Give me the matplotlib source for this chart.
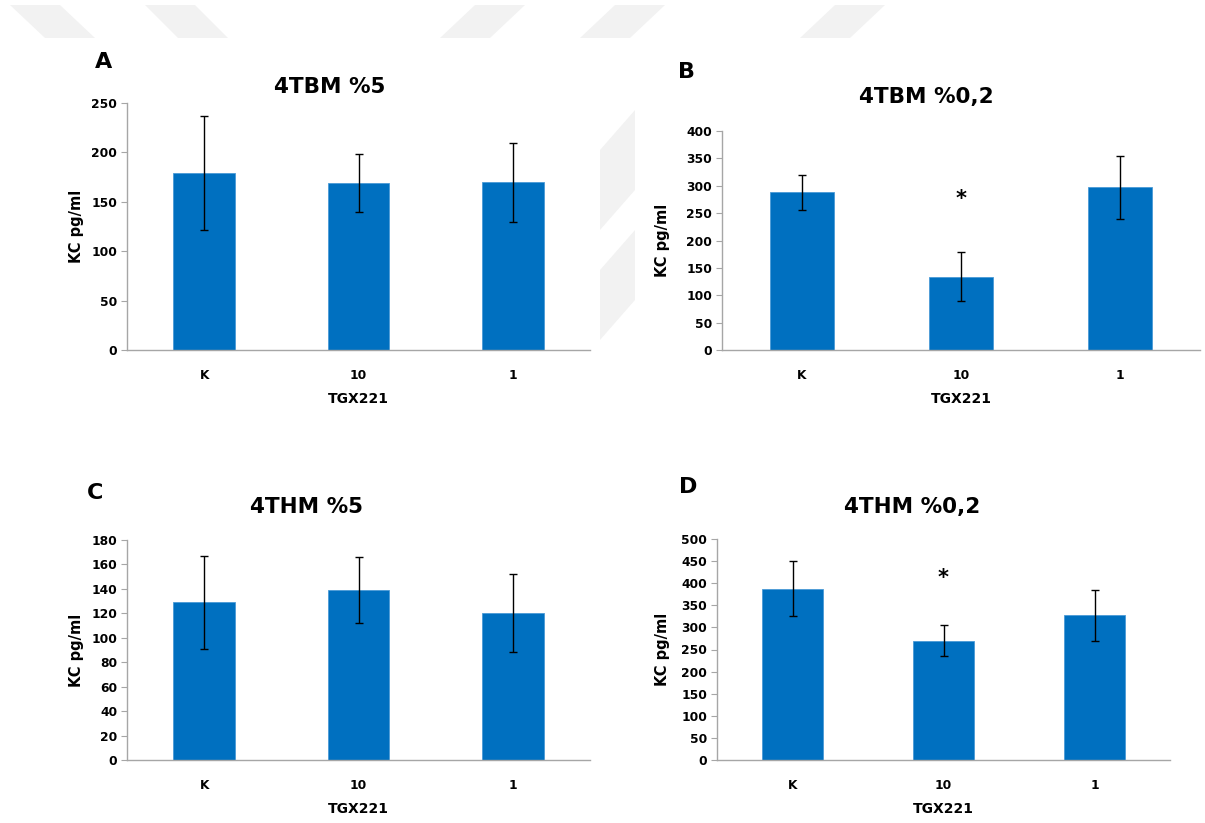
import matplotlib
matplotlib.use("Agg")
import matplotlib.pyplot as plt
from matplotlib.patches import Polygon

plt.rcParams['font.family'] = ['DejaVu Sans']
plt.rcParams['font.weight'] = 'bold'

categories = ["K", "10", "1"]

a_vals = [179, 169, 170]
a_err = [58, 29, 40]
b_vals = [288, 134, 297]
b_err = [32, 45, 58]
c_vals = [129, 139, 120]
c_err = [38, 27, 32]
d_vals = [388, 270, 327]
d_err = [62, 35, 58]

titles = ["4TBM %5", "4TBM %0,2", "4THM %5", "4THM %0,2"]
letters = ["A", "B", "C", "D"]
ymaxes = [250, 400, 180, 500]
ysteps = [50, 50, 20, 50]
star_b = 276
star_d = 412

W, H = 1205, 823
fig = plt.figure(figsize=(W / 100, H / 100), dpi=100)

# faint watermark stripes
grey = '#f2f2f2'
def px(x, y):
    return (x / W, 1 - y / H)
stripes = [
    [(10, 5), (60, 5), (95, 38), (45, 38)],
    [(145, 5), (195, 5), (228, 38), (178, 38)],
    [(440, 38), (475, 5), (525, 5), (490, 38)],
    [(580, 38), (615, 5), (665, 5), (630, 38)],
    [(800, 38), (835, 5), (885, 5), (850, 38)],
    [(600, 150), (635, 110), (635, 190), (600, 230)],
    [(600, 270), (635, 230), (635, 300), (600, 340)],
]
for s in stripes:
    fig.patches.append(Polygon([px(*p) for p in s], closed=True, transform=fig.transFigure,
                               facecolor=grey, edgecolor='none', zorder=0))

# axes boxes in pixels: left, right, top, bottom
boxes = [
    (127, 590, 103, 350),
    (722, 1200, 131, 350),
    (127, 590, 540, 760),
    (717, 1170, 539, 760),
]
vals = [a_vals, b_vals, c_vals, d_vals]
errs = [a_err, b_err, c_err, d_err]
title_pos = [(330, 87), (926, 97), (306, 507), (912, 507)]
letter_pos = [(104, 62), (687, 72), (95, 493), (688, 487)]
ylabel_x = [76, 662, 76, 662]

blue = '#0070C0'
axcol = '#a6a6a6'

axes = []
for i in range(4):
    l, r, t, b = boxes[i]
    ax = fig.add_axes([l / W, 1 - b / H, (r - l) / W, (b - t) / H])
    axes.append(ax)
    x = list(range(len(categories)))
    ax.bar(x, vals[i], width=0.4, color=blue, edgecolor='#4a9ad6', linewidth=0.6, zorder=2)
    ax.errorbar(x, vals[i], yerr=errs[i], fmt='none', ecolor='black', elinewidth=1.0,
                capsize=3, capthick=1.0, zorder=3)
    ax.set_xlim(-0.5, 2.5)
    ax.set_ylim(0, ymaxes[i])
    ax.set_yticks(range(0, ymaxes[i] + 1, ysteps[i]))
    ax.set_xticks(x)
    ax.set_xticklabels(categories)
    for sp in ['top', 'right']:
        ax.spines[sp].set_visible(False)
    for sp in ['left', 'bottom']:
        ax.spines[sp].set_color(axcol)
        ax.spines[sp].set_linewidth(1.0)
    ax.tick_params(axis='y', length=4, color=axcol, labelsize=8.8, pad=3)
    ax.tick_params(axis='x', length=0, labelsize=8.8, pad=14)
    for lab in ax.get_xticklabels() + ax.get_yticklabels():
        lab.set_fontweight('bold')
    ax.set_xlabel("TGX221", fontsize=10, fontweight='bold', labelpad=7)
    ax.patch.set_alpha(0)
    tx, ty = title_pos[i]
    fig.text(tx / W, 1 - ty / H, titles[i], fontsize=15.5, fontweight='bold', ha='center', va='center')
    lx, ly = letter_pos[i]
    fig.text(lx / W, 1 - ly / H, letters[i], fontsize=16, fontweight='bold', ha='center', va='center')
    fig.text(ylabel_x[i] / W, 1 - ((t + b) / 2) / H, "KC pg/ml", fontsize=10.5, fontweight='bold',
             rotation=90, ha='center', va='center')

axes[1].text(1, star_b, "*", fontsize=15, fontweight='bold', ha='center', va='center')
axes[3].text(1, star_d, "*", fontsize=15, fontweight='bold', ha='center', va='center')

fig.savefig("out.png", dpi=100, facecolor='white')
